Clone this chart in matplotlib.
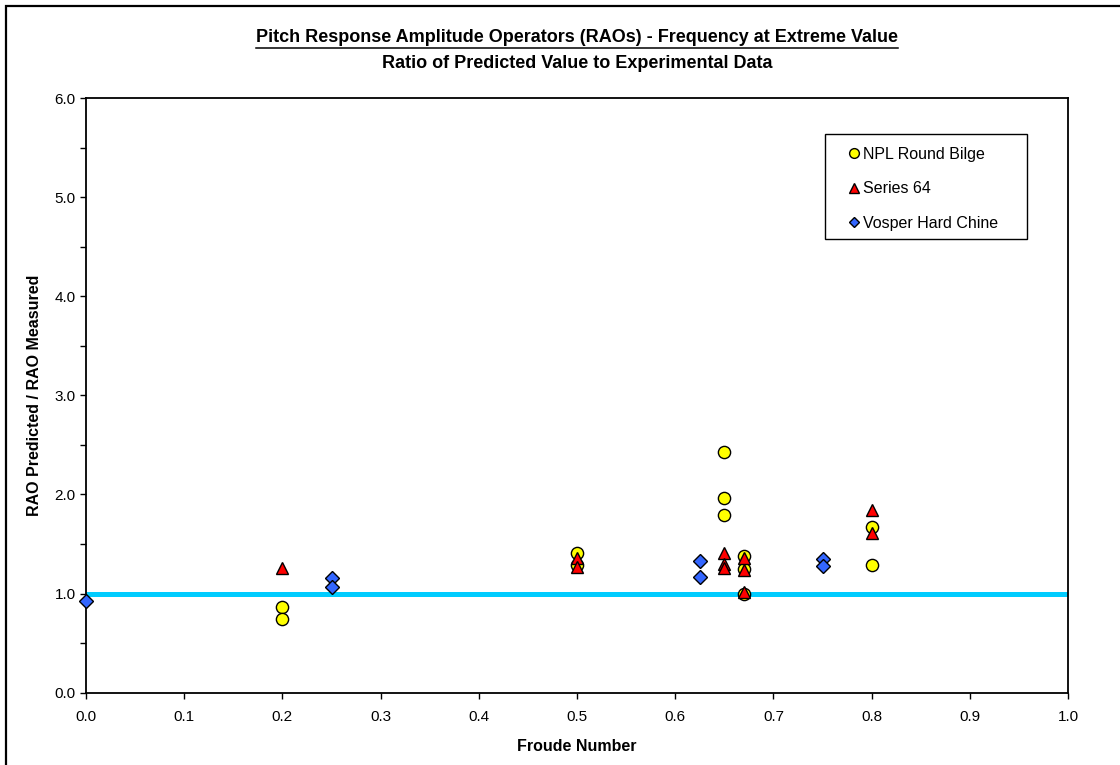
import matplotlib
matplotlib.use("Agg")
import matplotlib.pyplot as plt
from matplotlib.lines import Line2D
from matplotlib.patches import Rectangle
from matplotlib.ticker import MultipleLocator

plt.rcParams['font.family'] = ['Liberation Sans', 'DejaVu Sans']

# ratio of predicted to measured pitch RAO frequency, by Froude number
npl_fn = [0.2, 0.2, 0.5, 0.5, 0.65, 0.65, 0.65, 0.67, 0.67, 0.67, 0.8, 0.8]
npl_ratio = [0.86, 0.74, 1.41, 1.29, 2.43, 1.96, 1.79, 1.38, 1.25, 1.00, 1.67, 1.29]

s64_fn = [0.2, 0.5, 0.5, 0.65, 0.65, 0.65, 0.67, 0.67, 0.67, 0.8, 0.8]
s64_ratio = [1.26, 1.36, 1.27, 1.41, 1.30, 1.26, 1.36, 1.24, 1.02, 1.84, 1.61]

vosper_fn = [0.0, 0.25, 0.25, 0.625, 0.625, 0.75, 0.75]
vosper_ratio = [0.93, 1.16, 1.07, 1.33, 1.17, 1.35, 1.28]

W, H = 1120, 765
fig = plt.figure(figsize=(W / 100, H / 100), dpi=100)
ax = fig.add_axes([86 / W, 1 - 692.7 / H, 982 / W, 594.7 / H])

# reference line at ratio = 1
ax.plot([0, 1], [1, 1], color='#00CCFF', lw=3.6, zorder=2, solid_capstyle='butt')

ms = 8.8
ax.plot(npl_fn, npl_ratio, 'o', ms=ms, mfc='#FFFF00', mec='black', mew=1.0,
        label='NPL Round Bilge', zorder=3, clip_on=False)
ax.plot(s64_fn, s64_ratio, '^', ms=ms, mfc='#FF0000', mec='black', mew=1.0,
        label='Series 64', zorder=4, clip_on=False)
ax.plot(vosper_fn, vosper_ratio, 'D', ms=7.0, mfc='#3366FF', mec='black', mew=1.0,
        label='Vosper Hard Chine', zorder=5, clip_on=False)

ax.set_xlim(0, 1.0)
ax.set_ylim(0, 6.0)
ax.xaxis.set_major_locator(MultipleLocator(0.1))
ax.yaxis.set_major_locator(MultipleLocator(1.0))
ax.yaxis.set_minor_locator(MultipleLocator(0.5))
ax.xaxis.set_major_formatter(lambda v, p: f'{v:.1f}')
ax.yaxis.set_major_formatter(lambda v, p: f'{v:.1f}')
ax.tick_params(which='both', direction='out', length=4.5, width=1.0, labelsize=11,
               colors='black')
ax.tick_params(axis='x', pad=8)
ax.tick_params(axis='y', pad=3)
for sp in ax.spines.values():
    sp.set_linewidth(1.3)
    sp.set_color('black')

ax.set_xlabel('Froude Number', fontsize=11.5, fontweight='bold', labelpad=11)
ax.set_ylabel('RAO Predicted / RAO Measured', fontsize=11.5, fontweight='bold', labelpad=9)

# legend entries without frame, box drawn separately
def to_ax(px, py):
    return (px - 86) / 982, (692.7 - py) / 594.7

leg = ax.legend(loc='upper left', bbox_to_anchor=to_ax(849, 147), frameon=False,
                fontsize=11.5, handlelength=0.6, handletextpad=0.25, labelspacing=1.22,
                borderpad=0, borderaxespad=0, numpoints=1, markerscale=0.8)
for h in leg.legend_handles:
    h.set_markeredgewidth(1.0)
bx0, by0 = to_ax(825, 238.7)
bx1, by1 = to_ax(1027, 134)
ax.add_patch(Rectangle((bx0, by0), bx1 - bx0, by1 - by0, transform=ax.transAxes,
                       facecolor='white', edgecolor='black', lw=1.0, zorder=6))
leg.set_zorder(7)

# titles (first line underlined)
cx = (86 + 1068) / 2 / W
t1 = fig.text(cx, 1 - 38 / H, 'Pitch Response Amplitude Operators (RAOs) - Frequency at Extreme Value',
              ha='center', va='center', fontsize=13, fontweight='bold')
fig.text(cx, 1 - 63 / H, 'Ratio of Predicted Value to Experimental Data',
         ha='center', va='center', fontsize=13, fontweight='bold')

fig.canvas.draw()
bb = t1.get_window_extent()
uy = (bb.y0 - 1) / H
fig.add_artist(Line2D([bb.x0 / W, bb.x1 / W], [uy, uy], color='black', lw=1.1,
                      transform=fig.transFigure))

# chart border, right and bottom edges fall outside the image
fig.add_artist(Rectangle((6 / W, -0.1), 1.2, 1 - 6 / H + 0.1, fill=False,
                         edgecolor='black', lw=1.6, transform=fig.transFigure,
                         clip_on=False))

fig.savefig('out.png', dpi=100)
